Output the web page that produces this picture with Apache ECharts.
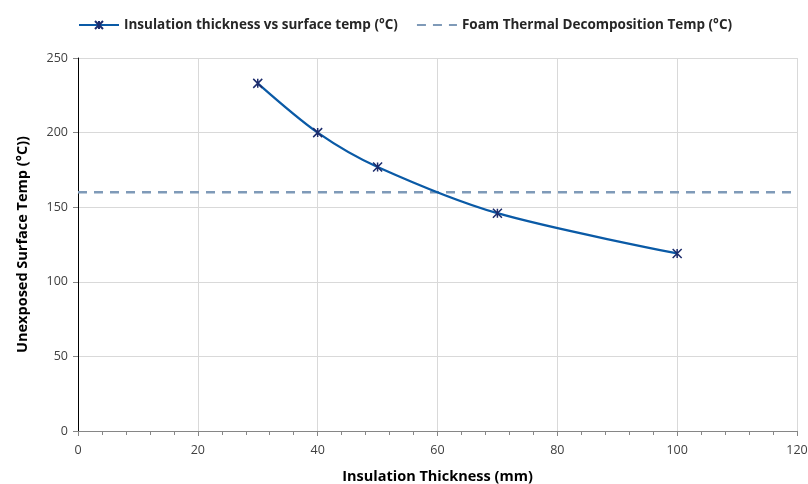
<!DOCTYPE html>
<html>
<head>
<meta charset="utf-8">
<script src="https://cdn.jsdelivr.net/npm/echarts@6/dist/echarts.min.js"></script>
<style>
  html, body { margin: 0; padding: 0; background: #fff; }
  #chart { width: 808px; height: 484px; }
</style>
</head>
<body>
<div id="chart"></div>
<script>
// Surface temperature on the unexposed face for each insulation thickness
const thickness = [30, 40, 50, 70, 100];          // mm
const surfaceTemp = [233, 200, 177, 146, 119];    // °C
const decompositionTemp = 160;                    // °C, foam limit
const xRange = [0, 120];

const seriesNames = [
  'Insulation thickness vs surface temp (°C)',
  'Foam Thermal Decomposition Temp (°C)'
];
const xTitle = 'Insulation Thickness (mm)';
const yTitle = 'Unexposed Surface Temp (°C))';

const FONT = 'Open Sans';
const asterisk = 'path://M0,0L10,10M10,0L0,10M5,0L5,10';

const chart = echarts.init(document.getElementById('chart'), null, { renderer: 'canvas' });

chart.setOption({
  animation: false,
  backgroundColor: '#ffffff',
  textStyle: { fontFamily: FONT },
  legend: {
    left: 73,
    top: 13,
    itemWidth: 40,
    itemHeight: 10,
    itemGap: 18,
    textStyle: { fontFamily: FONT, fontWeight: 'bold', fontSize: 13.5, color: '#262626' },
    data: [
      { name: seriesNames[0] },
      { name: seriesNames[1], itemStyle: { opacity: 0 } }
    ]
  },
  grid: { left: 78, right: 11, top: 58, bottom: 53, containLabel: false, outerBoundsMode: 'none' },
  xAxis: {
    type: 'value',
    min: xRange[0],
    max: xRange[1],
    interval: 20,
    name: xTitle,
    nameLocation: 'middle',
    nameGap: 38,
    nameTextStyle: { fontFamily: FONT, fontWeight: 'bold', fontSize: 14.5, color: '#000' },
    axisLine: { onZero: false, lineStyle: { color: '#868686', width: 1 } },
    axisTick: { show: true, length: 5, lineStyle: { color: '#868686' } },
    minorTick: { show: true, splitNumber: 5, length: 4, lineStyle: { color: '#868686' } },
    axisLabel: { fontFamily: FONT, fontSize: 12.5, color: '#404040', margin: 13 },
    splitLine: { show: true, lineStyle: { color: '#d9d9d9', width: 1 } }
  },
  yAxis: {
    type: 'value',
    min: 0,
    max: 250,
    interval: 50,
    name: yTitle,
    nameLocation: 'middle',
    nameGap: 48,
    nameTextStyle: { fontFamily: FONT, fontWeight: 'bold', fontSize: 14.5, color: '#000' },
    axisLine: { show: true, lineStyle: { color: '#000', width: 1 } },
    axisTick: { show: true, length: 5, lineStyle: { color: '#868686' } },
    axisLabel: { fontFamily: FONT, fontSize: 12.5, color: '#404040', margin: 10 },
    splitLine: { show: true, lineStyle: { color: '#d9d9d9', width: 1 } }
  },
  series: [
    {
      name: seriesNames[0],
      type: 'line',
      smooth: 0.3,
      data: thickness.map((t, i) => [t, surfaceTemp[i]]),
      symbol: asterisk,
      symbolSize: 9,
      lineStyle: { color: '#0a5aa6', width: 2.25 },
      itemStyle: { color: '#1c2c6c', borderColor: '#1c2c6c', borderWidth: 1.5 },
      z: 3
    },
    {
      name: seriesNames[1],
      type: 'line',
      data: [[xRange[0], decompositionTemp], [xRange[1], decompositionTemp]],
      symbol: 'circle',
      showSymbol: false,
      lineStyle: { color: '#7f9ab8', width: 2.5, type: [9, 7] },
      itemStyle: { color: '#7f9ab8' },
      z: 2
    }
  ]
});
</script>
</body>
</html>
